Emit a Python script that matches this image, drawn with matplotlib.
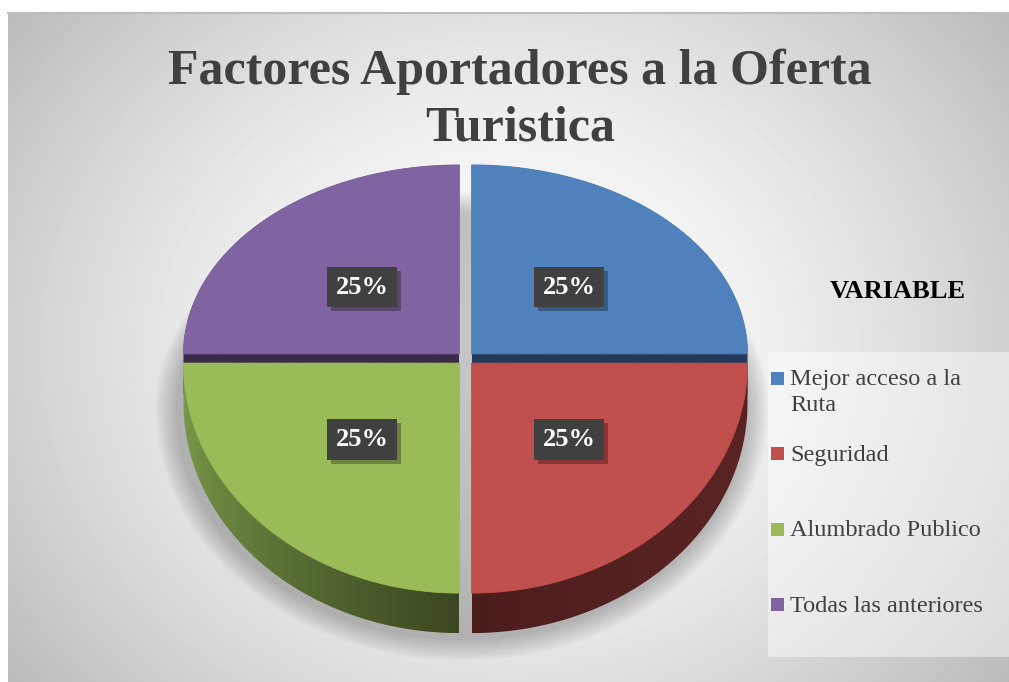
import textwrap
import numpy as np
import matplotlib
matplotlib.use('Agg')
import matplotlib.pyplot as plt
from matplotlib.patches import Polygon, Rectangle
from matplotlib.colors import to_rgb
import matplotlib.patheffects as pe

# datos del grafico
categorias = ['Mejor acceso a la Ruta', 'Seguridad', 'Alumbrado Publico', 'Todas las anteriores']
valores = [25, 25, 25, 25]
colores = ['#4F81BD', '#C0504D', '#9BBB59', '#8064A2']
colores_lado = [('#22395A', '#22395A'), ('#4A1C1C', '#5A2424'),
                ('#7A994A', '#3B4721'), ('#3C2A4A', '#3C2A4A')]
titulo = 'Factores Aportadores a la Oferta\nTuristica'
titulo_leyenda = 'VARIABLE'

W, H = 1009, 682
fig = plt.figure(figsize=(W / 100, H / 100), dpi=100)
ax = fig.add_axes([0, 0, 1, 1])


def elipse(cx, cy, rx, ryt, ryb, t):
    # mitad de arriba mas corta que la de abajo (perspectiva)
    s = np.sin(t)
    ry = np.where(s >= 0, ryt, ryb)
    return cx + rx * np.cos(t), cy - ry * s


def casco(pts):
    pts = sorted(set(map(tuple, np.round(pts, 3))))
    def cruz(o, a, b):
        return (a[0] - o[0]) * (b[1] - o[1]) - (a[1] - o[1]) * (b[0] - o[0])
    low, up = [], []
    for p in pts:
        while len(low) >= 2 and cruz(low[-2], low[-1], p) <= 0:
            low.pop()
        low.append(p)
    for p in reversed(pts):
        while len(up) >= 2 and cruz(up[-2], up[-1], p) <= 0:
            up.pop()
        up.append(p)
    return np.array(low[:-1] + up[:-1])


def relleno_degradado(poly, c1, c2, z):
    patch = Polygon(poly, closed=True, fc='none', ec='none', zorder=z)
    ax.add_patch(patch)
    x0, x1 = poly[:, 0].min(), poly[:, 0].max()
    y0, y1 = poly[:, 1].min(), poly[:, 1].max()
    t = np.linspace(0, 1, 200) ** 0.7
    img = np.array(to_rgb(c1))[None, :] * (1 - t[:, None]) + np.array(to_rgb(c2))[None, :] * t[:, None]
    im = ax.imshow(img[None, :, :], extent=(x0, x1, y1, y0), zorder=z, interpolation='bilinear')
    im.set_clip_path(patch)


# fondo con degradado radial
yy, xx = np.mgrid[12:H, 8:W]
d = np.hypot(xx - 508.0, (yy - 347.0) * 1.15) / 600.0
g = 1 - 0.25 * np.clip(d, 0, 1.2) ** 1.6
ax.imshow(g, cmap='gray', vmin=0, vmax=1, extent=(8, W, H, 12), zorder=0, interpolation='bilinear')
ax.plot([8, W], [12.5, 12.5], color='#bdbdbd', lw=1.5, zorder=1)

# sombra del pastel
tt = np.linspace(0, 2 * np.pi, 400)
for k in range(10):
    e = 16 - k * 2.2
    sx, sy = elipse(462, 408, 290 + e, 200 + e, 236 + e, tt)
    ax.add_patch(Polygon(np.column_stack([sx, sy]), closed=True, fc='black', ec='none', alpha=0.025, zorder=2))

# pastel 3D
cx0, cy0 = 465.5, 358.5
rx, ryt, ryb, prof = 276, 189, 230, 40
ex, ey = 8.5, 6.5

fr = np.array(valores, dtype=float) / sum(valores)
inicio = np.pi / 2 - 2 * np.pi * np.concatenate([[0], np.cumsum(fr)[:-1]])
fin = inicio - 2 * np.pi * fr
medio = (inicio + fin) / 2
orden = np.argsort(-np.sin(medio))

z = 3
for i in orden:
    ox = cx0 + ex * np.cos(medio[i])
    oy = cy0 - ey * np.sin(medio[i])
    t = np.linspace(inicio[i], fin[i], 120)
    px, py = elipse(ox, oy, rx, ryt, ryb, t)
    cara = np.vstack([[ox, oy], np.column_stack([px, py])])
    abajo = cara + np.array([0, prof])
    lado = casco(np.vstack([cara, abajo]))
    relleno_degradado(lado, colores_lado[i][0], colores_lado[i][1], z)
    ax.add_patch(Polygon(cara, closed=True, fc=colores[i], ec=colores[i], lw=0.6, zorder=z + 1))
    z += 2

# etiquetas de porcentaje
for i in range(len(valores)):
    ox = cx0 + ex * np.cos(medio[i])
    oy = cy0 - ey * np.sin(medio[i])
    lx, ly = elipse(ox, oy, rx * 0.5, ryt * 0.5, ryb * 0.47, medio[i])
    txt = ax.text(lx, ly, f'{fr[i] * 100:.0f}%', ha='center', va='center', color='white',
                  fontsize=19, fontweight='bold', family='Liberation Serif', zorder=20,
                  bbox=dict(boxstyle='square,pad=0.33', fc='#404040', ec='none'))
    txt.get_bbox_patch().set_path_effects([
        pe.SimplePatchShadow(offset=(3, -3), shadow_rgbFace='black', alpha=0.3), pe.Normal()])

# titulo
ax.text(520, 100, titulo, ha='center', va='center', fontsize=36, fontweight='bold',
        family='Liberation Serif', color='#404040', linespacing=1.28, zorder=20)

# leyenda
ax.add_patch(Rectangle((768, 352), W - 768, 305, fc='white', ec='none', alpha=0.45, zorder=15))
ax.text(898, 292, titulo_leyenda, ha='center', va='center', fontsize=19, fontweight='bold',
        family='Liberation Serif', color='black', zorder=20)
filas_y = [378, 453, 529, 604]
for cat, col, y in zip(categorias, colores, filas_y):
    ax.add_patch(Rectangle((771, y - 6.5), 13, 13, fc=col, ec='none', zorder=20))
    ax.text(790, y - 8.5, textwrap.fill(cat, 20), ha='left', va='top', fontsize=17.5,
            family='Liberation Serif', color='#404040', linespacing=1.3, zorder=20)

ax.set_xlim(0, W)
ax.set_ylim(H, 0)
ax.set_aspect('auto')
ax.axis('off')
fig.savefig('out.png', dpi=100, facecolor='white')
